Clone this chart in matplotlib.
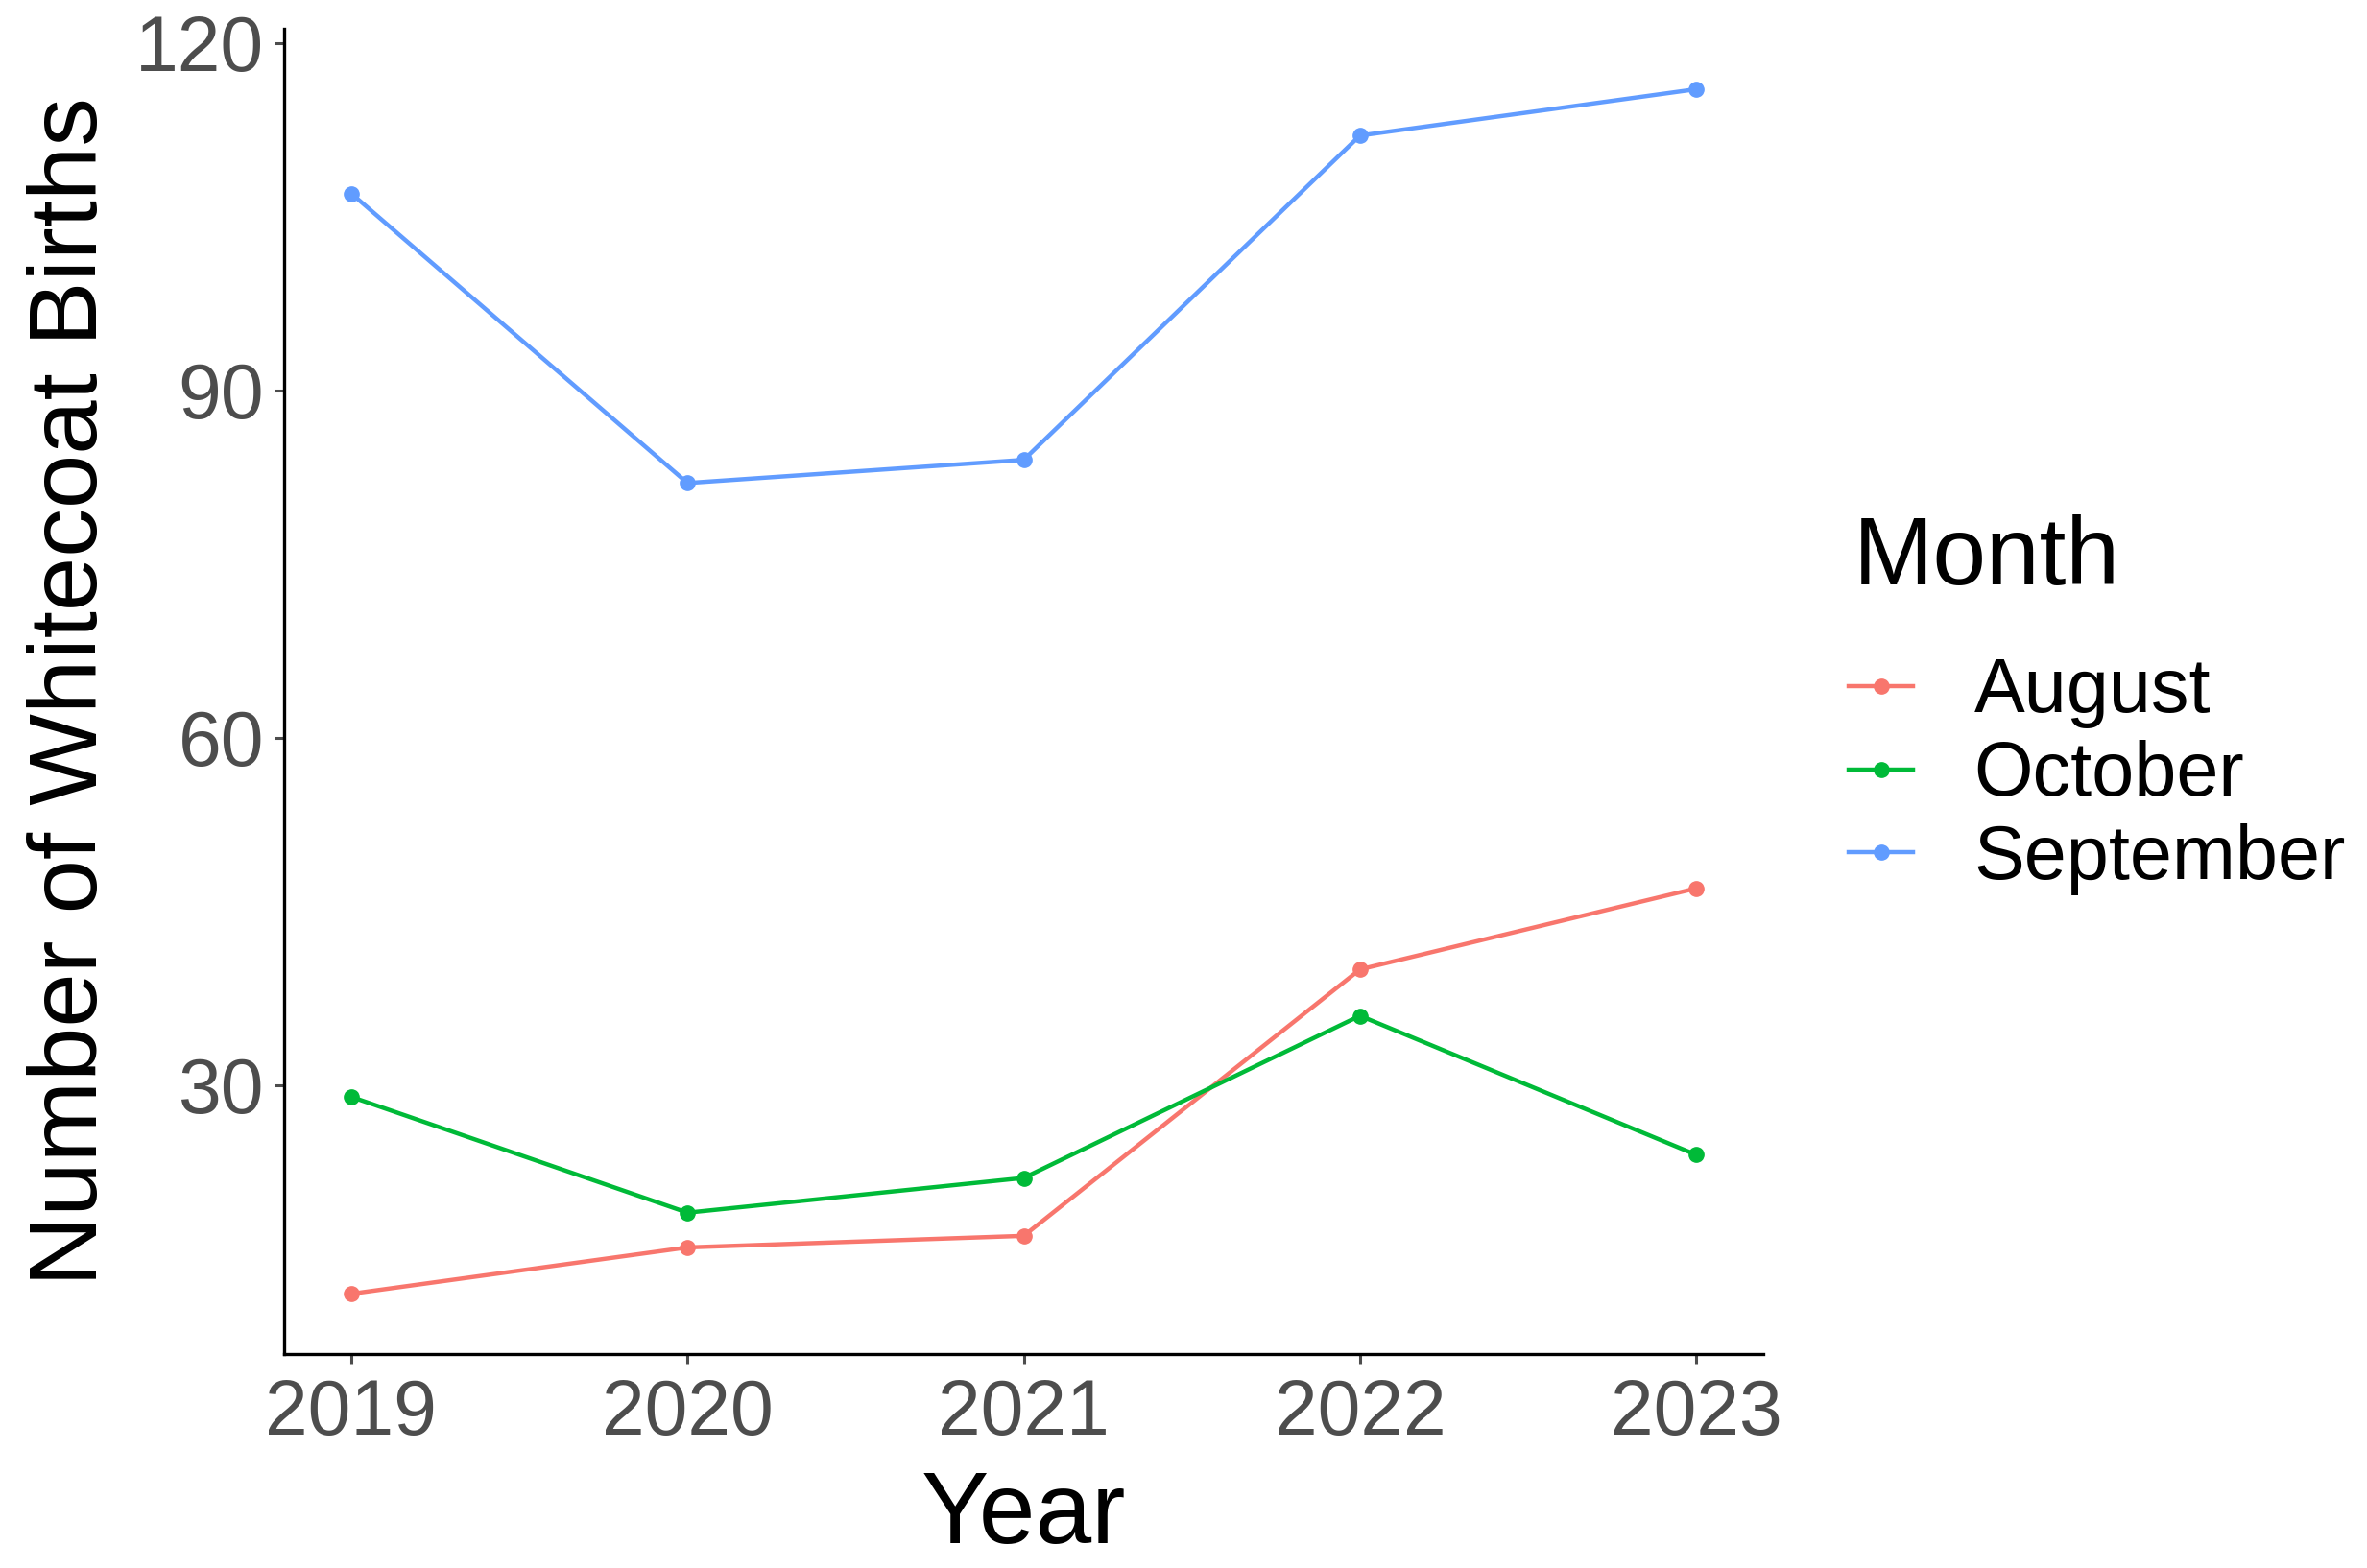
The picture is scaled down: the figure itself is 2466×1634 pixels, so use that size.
import matplotlib
matplotlib.use("Agg")
import matplotlib.pyplot as plt

years = [2019, 2020, 2021, 2022, 2023]
months = ["August", "October", "September"]
august = [12, 16, 17, 40, 47]
october = [29, 19, 22, 36, 24]
september = [107, 82, 84, 112, 116]
colors = ["#F8766D", "#00BA38", "#619CFF"]

plt.rcParams["font.family"] = ["Liberation Sans", "DejaVu Sans"]

fig = plt.figure(figsize=(24.66, 16.34), dpi=100)
ax = fig.add_axes([0.120, 0.1365, 0.625, 0.845])

for name, vals, col in zip(months, [august, october, september], colors):
    ax.plot(years, vals, color=col, lw=3.2, marker="o", ms=11, label=name)

ax.set_xlim(2018.8, 2023.2)
ax.set_ylim(6.8, 121.2)
ax.set_xticks(years)
ax.set_yticks([30, 60, 90, 120])
ax.tick_params(labelsize=58, colors="#4D4D4D", length=7, width=2.2)
ax.tick_params(axis="x", pad=11)
ax.tick_params(axis="y", pad=8)
for s in ["top", "right"]:
    ax.spines[s].set_visible(False)
for s in ["left", "bottom"]:
    ax.spines[s].set_linewidth(2.4)
ax.set_xlabel("Year", fontsize=76, labelpad=14)
ax.set_ylabel("Number of Whitecoat Births", fontsize=73, labelpad=14)

# legend title placed by hand so the gap below it matches the reference
fig.text(0.783, 0.627, "Month", fontsize=72, va="baseline", ha="left")
ax.legend(loc="center left", bbox_to_anchor=(0.781, 0.505),
          bbox_transform=fig.transFigure, frameon=False, fontsize=57,
          handlelength=0.85, handletextpad=0.8, labelspacing=0.15,
          borderpad=0, borderaxespad=0)

fig.savefig("out.png", dpi=100)
